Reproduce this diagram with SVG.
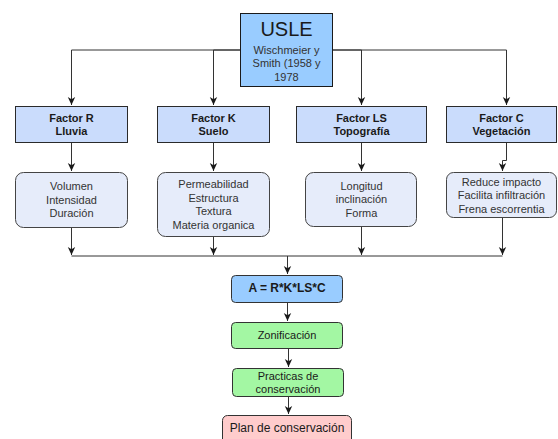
<svg xmlns="http://www.w3.org/2000/svg" width="558" height="439" viewBox="0 0 558 439">
<defs>
<marker id="arr" markerUnits="userSpaceOnUse" markerWidth="9" markerHeight="9" viewBox="0 0 9 9" refX="8" refY="4.5" orient="auto">
<path d="M0,0.8 L8,4.5 L0,8.2 L2.2,4.5 z" fill="#1a1a1a"/>
</marker>
</defs>
<style>
text{font-family:"Liberation Sans",Arial,Helvetica,sans-serif;text-anchor:middle;}
.t11{font-size:11px;fill:#333;}
.b11{font-size:11px;font-weight:bold;fill:#1a1a1a;}
.factor{fill:#CADCFC;stroke:#2a2a2a;stroke-width:1;}
.detail{fill:#E6ECFA;stroke:#444;stroke-width:1;}
.edge{fill:none;stroke:#333;stroke-width:1;}
.arrow{marker-end:url(#arr);}
</style>
<rect width="558" height="439" fill="#ffffff"/>
<g id="connectors">
<path class="edge arrow" d="M240,50 H71.5 V105"/>
<path class="edge arrow" d="M240,50 H213.5 V105"/>
<path class="edge arrow" d="M333,50 H361.5 V105"/>
<path class="edge arrow" d="M333,50 H506.5 V105"/>
<path class="edge arrow" d="M71.5,143 V171"/>
<path class="edge arrow" d="M213.5,143 V171"/>
<path class="edge arrow" d="M361.5,143 V171"/>
<path class="edge arrow" d="M506.5,143 V160.5 H502.5 V171"/>
<path class="edge arrow" d="M71.5,228 V255"/>
<path class="edge arrow" d="M213.5,237 V255"/>
<path class="edge arrow" d="M361.5,227 V255"/>
<path class="edge arrow" d="M502.5,218 V255"/>
<path class="edge" d="M71.5,256 H502.5"/>
<path class="edge arrow" d="M287.5,256 V274"/>
<path class="edge arrow" d="M287.5,303 V321"/>
<path class="edge arrow" d="M288.5,349 V367"/>
<path class="edge arrow" d="M288.5,397 V414"/>
</g>
<g id="usle">
<rect x="240.5" y="13.5" width="92" height="73" fill="#99CCFF" stroke="#1a1a1a"/>
<text x="286.5" y="36" style="font-size:20px;fill:#1a1a1a;">USLE</text>
<text class="t11" x="286.5" y="53.5">Wischmeier y</text>
<text class="t11" x="286.5" y="67">Smith (1958 y</text>
<text class="t11" x="286.5" y="80.5">1978</text>
</g>
<g id="factor-r">
<rect class="factor" x="15.5" y="106.5" width="112" height="36"/>
<text class="b11" x="71.5" y="122">Factor R</text>
<text class="b11" x="71.5" y="135">Lluvia</text>
</g>
<g id="factor-k">
<rect class="factor" x="157.5" y="106.5" width="112" height="36"/>
<text class="b11" x="213.5" y="122">Factor K</text>
<text class="b11" x="213.5" y="135">Suelo</text>
</g>
<g id="factor-ls">
<rect class="factor" x="296.5" y="106.5" width="130" height="36"/>
<text class="b11" x="361.5" y="122">Factor LS</text>
<text class="b11" x="361.5" y="135">Topografía</text>
</g>
<g id="factor-c">
<rect class="factor" x="446.5" y="106.5" width="110" height="36"/>
<text class="b11" x="501.5" y="122">Factor C</text>
<text class="b11" x="501.5" y="135">Vegetación</text>
</g>
<g id="detail-r">
<rect class="detail" x="15.5" y="172.5" width="112" height="55" rx="8"/>
<text class="t11" x="71.5" y="190">Volumen</text>
<text class="t11" x="71.5" y="203.5">Intensidad</text>
<text class="t11" x="71.5" y="217">Duración</text>
</g>
<g id="detail-k">
<rect class="detail" x="157.5" y="172.5" width="112" height="64" rx="8"/>
<text class="t11" x="213.5" y="188">Permeabilidad</text>
<text class="t11" x="213.5" y="201.5">Estructura</text>
<text class="t11" x="213.5" y="215">Textura</text>
<text class="t11" x="213.5" y="228.5">Materia organica</text>
</g>
<g id="detail-ls">
<rect class="detail" x="305.5" y="172.5" width="111" height="54" rx="8"/>
<text class="t11" x="361.5" y="190">Longitud</text>
<text class="t11" x="361.5" y="203">inclinación</text>
<text class="t11" x="361.5" y="216.5">Forma</text>
</g>
<g id="detail-c">
<rect class="detail" x="446.5" y="172.5" width="110" height="45" rx="7"/>
<text class="t11" x="501.5" y="185.5">Reduce impacto</text>
<text class="t11" x="501.5" y="199">Facilita infiltración</text>
<text class="t11" x="501.5" y="212.5">Frena escorrentia</text>
</g>
<g id="formula">
<rect x="231.5" y="275.5" width="111" height="27" rx="4" fill="#99CCFF" stroke="#333"/>
<text x="287" y="292.3" style="font-size:12px;font-weight:bold;fill:#1a1a1a;">A = R*K*LS*C</text>
</g>
<g id="zonificacion">
<rect x="231.5" y="322.5" width="111" height="26" rx="4" fill="#A3F7A3" stroke="#333"/>
<text class="t11" x="287" y="339" style="fill:#1a1a1a;">Zonificación</text>
</g>
<g id="practicas">
<rect x="232.5" y="368.5" width="111" height="28" rx="4" fill="#A3F7A3" stroke="#333"/>
<text class="t11" x="288" y="379.7" style="fill:#1a1a1a;">Practicas de</text>
<text class="t11" x="288" y="393" style="fill:#1a1a1a;">conservación</text>
</g>
<g id="plan">
<rect x="222.5" y="415.5" width="129" height="34" rx="5" fill="#FFCCCC" stroke="#333"/>
<text x="287" y="432.3" style="font-size:12px;fill:#1a1a1a;">Plan de conservación</text>
</g>
</svg>
